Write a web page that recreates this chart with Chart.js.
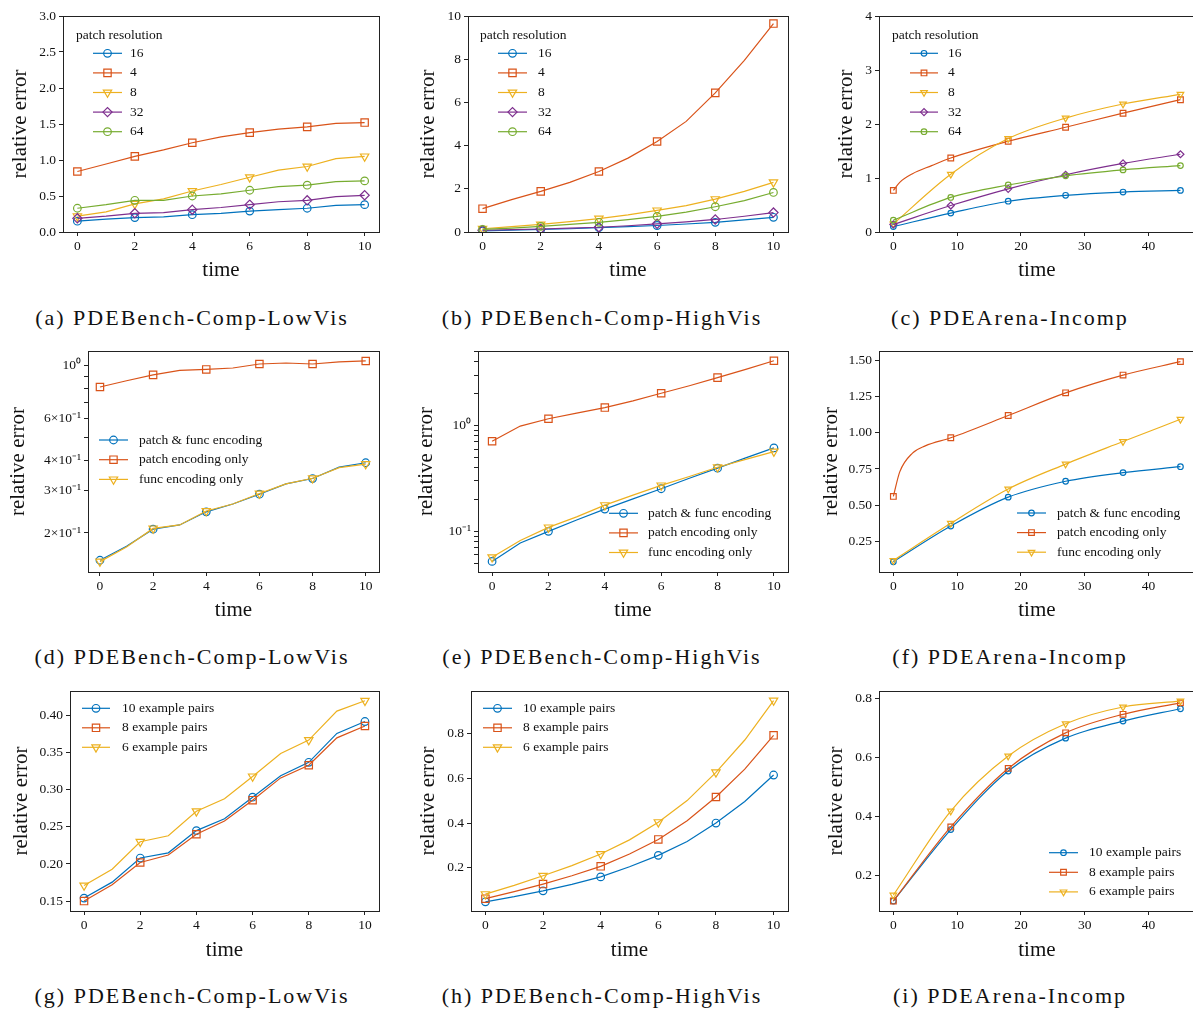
<!DOCTYPE html>
<html lang="en">
<head>
<meta charset="UTF-8">
<title>relative error over time</title>
<script src="https://cdn.jsdelivr.net/npm/chart.js"></script>
<style>
  html, body { margin: 0; padding: 0; background: #fff; overflow: hidden; }
  body { width: 1193px; height: 1009px; position: relative; }
  canvas { position: absolute; }
  .cap { position: absolute; width: 400px; height: 26px; line-height: 26px; text-align: center;
         font-family: 'Liberation Serif', serif; font-size: 22px; letter-spacing: 2px; color: #111; white-space: nowrap; }
</style>
</head>
<body>
<canvas id="pa" width="400" height="300" style="left:0px;top:0px"></canvas>
<canvas id="pb" width="400" height="300" style="left:400px;top:0px"></canvas>
<canvas id="pc" width="400" height="300" style="left:800px;top:0px"></canvas>
<canvas id="pd" width="400" height="300" style="left:0px;top:340px"></canvas>
<canvas id="pe" width="400" height="300" style="left:400px;top:340px"></canvas>
<canvas id="pf" width="400" height="300" style="left:800px;top:340px"></canvas>
<canvas id="pg" width="400" height="300" style="left:0px;top:680px"></canvas>
<canvas id="ph" width="400" height="300" style="left:400px;top:680px"></canvas>
<canvas id="pi" width="400" height="300" style="left:800px;top:680px"></canvas>

<div class="cap" style="left:-8px;top:305px">(a) PDEBench-Comp-LowVis</div>
<div class="cap" style="left:402px;top:305px">(b) PDEBench-Comp-HighVis</div>
<div class="cap" style="left:810px;top:305px">(c) PDEArena-Incomp</div>
<div class="cap" style="left:-8px;top:644px">(d) PDEBench-Comp-LowVis</div>
<div class="cap" style="left:402px;top:644px">(e) PDEBench-Comp-HighVis</div>
<div class="cap" style="left:810px;top:644px">(f) PDEArena-Incomp</div>
<div class="cap" style="left:-8px;top:983px">(g) PDEBench-Comp-LowVis</div>
<div class="cap" style="left:402px;top:983px">(h) PDEBench-Comp-HighVis</div>
<div class="cap" style="left:810px;top:983px">(i) PDEArena-Incomp</div>

<script>
// time steps
var tShort = [0, 1, 2, 3, 4, 5, 6, 7, 8, 9, 10];
var tLong = [0, 9, 18, 27, 36, 45];
var marksShort = [0, 2, 4, 6, 8, 10];
var marksLong = [0, 9, 18, 27, 36, 45];
var xTicksShort = [0, 2, 4, 6, 8, 10];
var xTicksLong = [0, 10, 20, 30, 40];

// (a) patch resolution, LowVis
var a16 = [0.15, 0.18, 0.20, 0.21, 0.24, 0.26, 0.29, 0.31, 0.33, 0.37, 0.38];
var a4  = [0.84, 0.945, 1.05, 1.14, 1.24, 1.32, 1.38, 1.43, 1.46, 1.51, 1.52];
var a8  = [0.22, 0.28, 0.39, 0.46, 0.57, 0.66, 0.76, 0.86, 0.91, 1.02, 1.05];
var a32 = [0.19, 0.22, 0.26, 0.27, 0.31, 0.34, 0.38, 0.42, 0.44, 0.49, 0.51];
var a64 = [0.33, 0.38, 0.44, 0.44, 0.50, 0.53, 0.58, 0.63, 0.65, 0.70, 0.71];

// (b) patch resolution, HighVis
var b16 = [0.05, 0.08, 0.12, 0.15, 0.20, 0.25, 0.30, 0.37, 0.45, 0.56, 0.68];
var b4  = [1.08, 1.5, 1.88, 2.3, 2.80, 3.42, 4.19, 5.12, 6.44, 7.95, 9.65];
var b8  = [0.15, 0.25, 0.35, 0.48, 0.62, 0.79, 1.0, 1.22, 1.52, 1.88, 2.30];
var b32 = [0.08, 0.11, 0.14, 0.18, 0.22, 0.29, 0.38, 0.47, 0.58, 0.73, 0.90];
var b64 = [0.12, 0.18, 0.26, 0.35, 0.45, 0.57, 0.72, 0.92, 1.17, 1.45, 1.83];

// (c) patch resolution, Incomp
var c16 = [0.10, 0.35, 0.57, 0.68, 0.74, 0.77];
var c4Times = [0, 1, 3, 6, 9, 18, 27, 36, 45];
var c4  = [0.77, 0.92, 1.08, 1.23, 1.37, 1.68, 1.94, 2.20, 2.45];
var c8  = [0.15, 1.07, 1.73, 2.11, 2.37, 2.55];
var c32 = [0.14, 0.49, 0.80, 1.06, 1.27, 1.44];
var c64 = [0.22, 0.64, 0.87, 1.04, 1.15, 1.23];

// (d)-(f) encoding ablation
var dBoth  = [0.154, 0.176, 0.2075, 0.216, 0.245, 0.264, 0.290, 0.32, 0.337, 0.376, 0.392];
var dPatch = [0.81, 0.86, 0.91, 0.95, 0.959, 0.972, 1.01, 1.02, 1.01, 1.03, 1.04];
var dFunc  = [0.152, 0.175, 0.209, 0.216, 0.247, 0.264, 0.292, 0.32, 0.338, 0.374, 0.387];

var eBoth  = [0.052, 0.0776, 0.1, 0.128, 0.1625, 0.203, 0.253, 0.318, 0.396, 0.495, 0.615];
var ePatch = [0.711, 0.99, 1.16, 1.31, 1.48, 1.71, 2.02, 2.38, 2.84, 3.4, 4.1];
var eFunc  = [0.057, 0.082, 0.109, 0.137, 0.177, 0.22, 0.272, 0.33, 0.404, 0.48, 0.568];

var fBoth  = [0.108, 0.355, 0.555, 0.665, 0.725, 0.766];
var fPatchTimes = [0, 1, 3, 5, 9, 18, 27, 36, 45];
var fPatch = [0.56, 0.73, 0.86, 0.91, 0.966, 1.12, 1.277, 1.40, 1.493];
var fFunc  = [0.117, 0.374, 0.612, 0.784, 0.94, 1.094];

// (g)-(i) number of example pairs
var gTen   = [0.154, 0.1755, 0.208, 0.215, 0.245, 0.261, 0.290, 0.319, 0.337, 0.376, 0.392];
var gEight = [0.150, 0.172, 0.202, 0.212, 0.240, 0.258, 0.286, 0.316, 0.333, 0.370, 0.386];
var gSix   = [0.171, 0.193, 0.230, 0.238, 0.271, 0.288, 0.318, 0.349, 0.367, 0.406, 0.420];

var hTen   = [0.049, 0.072, 0.098, 0.127, 0.160, 0.205, 0.256, 0.318, 0.400, 0.496, 0.614];
var hEight = [0.063, 0.094, 0.128, 0.165, 0.207, 0.262, 0.327, 0.41, 0.516, 0.64, 0.791];
var hSix   = [0.083, 0.122, 0.165, 0.21, 0.262, 0.325, 0.404, 0.50, 0.626, 0.77, 0.946];

var iTen   = [0.112, 0.355, 0.554, 0.666, 0.724, 0.766];
var iEight = [0.112, 0.364, 0.563, 0.684, 0.747, 0.786];
var iSix   = [0.132, 0.418, 0.605, 0.715, 0.772, 0.792];

// y tick values and labels
var yTicksA = [0, 0.5, 1, 1.5, 2, 2.5, 3];
var yLabelsA = ['0.0', '0.5', '1.0', '1.5', '2.0', '2.5', '3.0'];
var yTicksB = [0, 2, 4, 6, 8, 10];
var yLabelsB = ['0', '2', '4', '6', '8', '10'];
var yTicksC = [0, 1, 2, 3, 4];
var yLabelsC = ['0', '1', '2', '3', '4'];
var yTicksD = [0.2, 0.3, 0.4, 0.5, 0.6, 0.7, 0.8, 0.9, 1];
var yLabelsD = ['2×10⁻¹', '3×10⁻¹', '4×10⁻¹', '', '6×10⁻¹', '', '', '', '10⁰'];
var yTicksE = [0.05, 0.06, 0.07, 0.08, 0.09, 0.1, 0.2, 0.3, 0.4, 0.5, 0.6, 0.7, 0.8, 0.9, 1, 2, 3, 4, 5];
var yLabelsE = ['', '', '', '', '', '10⁻¹', '', '', '', '', '', '', '', '', '10⁰', '', '', '', ''];
var yTicksF = [0.25, 0.5, 0.75, 1, 1.25, 1.5];
var yLabelsF = ['0.25', '0.50', '0.75', '1.00', '1.25', '1.50'];
var yTicksG = [0.15, 0.2, 0.25, 0.3, 0.35, 0.4];
var yLabelsG = ['0.15', '0.20', '0.25', '0.30', '0.35', '0.40'];
var yTicksH = [0.2, 0.4, 0.6, 0.8];
var yLabelsH = ['0.2', '0.4', '0.6', '0.8'];

var BLUE = '#0072BD', ORANGE = '#D95319', YELLOW = '#EDB120', PURPLE = '#7E2F8E', GREEN = '#77AC30';
var SERIF = "'Liberation Serif', 'Times New Roman', serif";
var INK = '#111';

var SHAPES = {
    circle: ['circle', 0],
    square: ['rect', 0],
    tridown: ['triangle', 180],
    diamond: ['rectRot', 0]
};
var RADII = {
    big: { circle: 3.8, square: 5.2, tridown: 4.8, diamond: 4.6 },
    small: { circle: 2.8, square: 4.0, tridown: 3.8, diamond: 3.5 }
};

function series(label, times, vals, color, shape, marks, size, smooth) {
    var r = RADII[size][shape];
    return {
        label: label,
        data: times.map(function (t, i) { return { x: t, y: vals[i] }; }),
        borderColor: color,
        borderWidth: 1.2,
        pointStyle: SHAPES[shape][0],
        pointRotation: SHAPES[shape][1],
        pointRadius: function (ctx) { return (ctx.raw && marks.indexOf(ctx.raw.x) >= 0) ? r : 0; },
        pointHoverRadius: 0,
        pointBorderColor: color,
        pointBorderWidth: 1.2,
        pointBackgroundColor: 'rgba(0,0,0,0)',
        tension: 0,
        cubicInterpolationMode: smooth ? 'monotone' : 'default',
        fill: false,
        markerRadius: r
    };
}

// frame round the plot area
var framePlugin = {
    id: 'frame',
    afterDraw: function (chart) {
        var a = chart.chartArea, ctx = chart.ctx;
        ctx.save();
        ctx.strokeStyle = '#222';
        ctx.lineWidth = 1;
        ctx.strokeRect(Math.round(a.left) + 0.5, Math.round(a.top) + 0.5,
            Math.round(a.right - a.left), Math.round(a.bottom - a.top));
        ctx.restore();
    }
};

// matplotlib style legend inside the axes
var keyPlugin = {
    id: 'key',
    afterDatasetsDraw: function (chart, args, o) {
        if (o.x0 === undefined) return;
        var ctx = chart.ctx;
        ctx.save();
        ctx.font = '13.5px ' + SERIF;
        ctx.textBaseline = 'middle';
        ctx.textAlign = 'left';
        ctx.fillStyle = INK;
        if (o.title) ctx.fillText(o.title, o.titleX, o.titleY);
        chart.data.datasets.forEach(function (ds, i) {
            var y = o.y0 + i * o.gap;
            ctx.strokeStyle = ds.borderColor;
            ctx.lineWidth = ds.borderWidth;
            ctx.beginPath();
            ctx.moveTo(o.x0, y);
            ctx.lineTo(o.x1, y);
            ctx.stroke();
            ctx.fillStyle = 'rgba(0,0,0,0)';
            Chart.helpers.drawPoint(ctx, {
                pointStyle: ds.pointStyle, rotation: ds.pointRotation,
                radius: ds.markerRadius, borderWidth: ds.pointBorderWidth
            }, (o.x0 + o.x1) / 2, y);
            ctx.fillStyle = INK;
            ctx.fillText(ds.label, o.tx, y);
        });
        ctx.restore();
    }
};

function makeChart(p, datasets) {
    datasets.forEach(function (ds, i) { ds.order = -i; });
    var H = 300, W = 400;
    return new Chart(document.getElementById(p.id), {
        type: 'line',
        data: { datasets: datasets },
        options: {
            responsive: false,
            animation: false,
            events: [],
            devicePixelRatio: 1,
            layout: { padding: { left: 0, top: p.T, right: W - p.R, bottom: 0 } },
            plugins: { legend: { display: false }, tooltip: { enabled: false }, key: p.key || {} },
            scales: {
                x: {
                    type: 'linear', min: p.xmin, max: p.xmax,
                    afterBuildTicks: function (ax) { ax.ticks = p.xticks.map(function (v) { return { value: v }; }); },
                    afterFit: function (ax) { ax.height = H - p.B; },
                    grid: { display: true, drawOnChartArea: false, drawTicks: true, tickLength: 4, color: '#222', lineWidth: 1 },
                    border: { display: false },
                    ticks: { font: { family: SERIF, size: 13.5 }, color: INK, padding: 2, maxRotation: 0, autoSkip: false,
                             callback: function (v) { return String(v); } },
                    title: { display: true, text: 'time', color: INK, font: { family: SERIF, size: 21, lineHeight: 1 },
                             padding: { top: 0, bottom: 19.5 } }
                },
                y: {
                    type: p.log ? 'logarithmic' : 'linear', min: p.ymin, max: p.ymax,
                    afterBuildTicks: function (ax) { ax.ticks = p.yticks.map(function (v) { return { value: v }; }); },
                    afterFit: function (ax) { ax.width = p.L; },
                    grid: { display: true, drawOnChartArea: false, drawTicks: true, tickLength: 4, color: '#222', lineWidth: 1 },
                    border: { display: false },
                    ticks: { font: { family: SERIF, size: 13.5 }, color: INK, padding: 3, autoSkip: false,
                             callback: function (v, i) { return p.ylabels[i]; } },
                    title: { display: true, text: 'relative error', color: INK, font: { family: SERIF, size: 21, lineHeight: 1 },
                             padding: { top: p.ytPad, bottom: 0 } }
                }
            }
        },
        plugins: [framePlugin, keyPlugin]
    });
}

var resKey = function (titleX, x0, x1, tx) {
    return { title: 'patch resolution', titleX: titleX, titleY: 35, x0: x0, x1: x1, tx: tx, y0: 53.3, gap: 19.6 };
};

makeChart({ id: 'pa', L: 63, R: 379, T: 16, B: 232, xmin: -0.5, xmax: 10.5, xticks: xTicksShort,
            ymin: 0, ymax: 3, yticks: yTicksA, ylabels: yLabelsA, ytPad: 9.5, key: resKey(76, 93, 122, 130) }, [
    series('16', tShort, a16, BLUE, 'circle', marksShort, 'big'),
    series('4', tShort, a4, ORANGE, 'square', marksShort, 'big'),
    series('8', tShort, a8, YELLOW, 'tridown', marksShort, 'big'),
    series('32', tShort, a32, PURPLE, 'diamond', marksShort, 'big'),
    series('64', tShort, a64, GREEN, 'circle', marksShort, 'big')
]);

makeChart({ id: 'pb', L: 68, R: 388, T: 16, B: 232, xmin: -0.5, xmax: 10.5, xticks: xTicksShort,
            ymin: 0, ymax: 10, yticks: yTicksB, ylabels: yLabelsB, ytPad: 17.5, key: resKey(80, 98, 127, 138) }, [
    series('16', tShort, b16, BLUE, 'circle', marksShort, 'big'),
    series('4', tShort, b4, ORANGE, 'square', marksShort, 'big'),
    series('8', tShort, b8, YELLOW, 'tridown', marksShort, 'big'),
    series('32', tShort, b32, PURPLE, 'diamond', marksShort, 'big'),
    series('64', tShort, b64, GREEN, 'circle', marksShort, 'big')
]);

makeChart({ id: 'pc', L: 79, R: 395, T: 16, B: 232, xmin: -2.25, xmax: 47.25, xticks: xTicksLong,
            ymin: 0, ymax: 4, yticks: yTicksC, ylabels: yLabelsC, ytPad: 36, key: resKey(92, 110, 138, 148) }, [
    series('16', tLong, c16, BLUE, 'circle', marksLong, 'small', true),
    series('4', c4Times, c4, ORANGE, 'square', marksLong, 'small', true),
    series('8', tLong, c8, YELLOW, 'tridown', marksLong, 'small', true),
    series('32', tLong, c32, PURPLE, 'diamond', marksLong, 'small', true),
    series('64', tLong, c64, GREEN, 'circle', marksLong, 'small', true)
]);

makeChart({ id: 'pd', L: 88, R: 379, T: 11, B: 232, xmin: -0.45, xmax: 10.5, xticks: xTicksShort, log: true,
            ymin: 0.1376, ymax: 1.143, yticks: yTicksD, ylabels: yLabelsD, ytPad: 7.5,
            key: { x0: 99, x1: 128, tx: 139, y0: 100, gap: 19.7 } }, [
    series('patch & func encoding', tShort, dBoth, BLUE, 'circle', marksShort, 'big'),
    series('patch encoding only', tShort, dPatch, ORANGE, 'square', marksShort, 'big'),
    series('func encoding only', tShort, dFunc, YELLOW, 'tridown', marksShort, 'big')
]);

makeChart({ id: 'pe', L: 78, R: 388, T: 11, B: 232, xmin: -0.5, xmax: 10.5, xticks: xTicksShort, log: true,
            ymin: 0.0413, ymax: 5.06, yticks: yTicksE, ylabels: yLabelsE, ytPad: 16,
            key: { x0: 209, x1: 238, tx: 248, y0: 173.3, gap: 19.6 } }, [
    series('patch & func encoding', tShort, eBoth, BLUE, 'circle', marksShort, 'big'),
    series('patch encoding only', tShort, ePatch, ORANGE, 'square', marksShort, 'big'),
    series('func encoding only', tShort, eFunc, YELLOW, 'tridown', marksShort, 'big')
]);

makeChart({ id: 'pf', L: 79, R: 395, T: 10, B: 232, xmin: -2.25, xmax: 47.25, xticks: xTicksLong,
            ymin: 0.037, ymax: 1.566, yticks: yTicksF, ylabels: yLabelsF, ytPad: 21,
            key: { x0: 217, x1: 246, tx: 257, y0: 173, gap: 19.6 } }, [
    series('patch & func encoding', tLong, fBoth, BLUE, 'circle', marksLong, 'small', true),
    series('patch encoding only', fPatchTimes, fPatch, ORANGE, 'square', marksLong, 'small', true),
    series('func encoding only', tLong, fFunc, YELLOW, 'tridown', marksLong, 'small', true)
]);

makeChart({ id: 'pg', L: 70, R: 379, T: 10, B: 231, xmin: -0.5, xmax: 10.5, xticks: xTicksShort,
            ymin: 0.1366, ymax: 0.433, yticks: yTicksG, ylabels: yLabelsG, ytPad: 11,
            key: { x0: 82, x1: 110, tx: 122, y0: 28.3, gap: 19.5 } }, [
    series('10 example pairs', tShort, gTen, BLUE, 'circle', marksShort, 'big'),
    series('8 example pairs', tShort, gEight, ORANGE, 'square', marksShort, 'big'),
    series('6 example pairs', tShort, gSix, YELLOW, 'tridown', marksShort, 'big')
]);

makeChart({ id: 'ph', L: 71, R: 388, T: 10, B: 231, xmin: -0.5, xmax: 10.5, xticks: xTicksShort,
            ymin: 0.008, ymax: 0.988, yticks: yTicksH, ylabels: yLabelsH, ytPad: 17.5,
            key: { x0: 83, x1: 112, tx: 123, y0: 28.3, gap: 19.5 } }, [
    series('10 example pairs', tShort, hTen, BLUE, 'circle', marksShort, 'big'),
    series('8 example pairs', tShort, hEight, ORANGE, 'square', marksShort, 'big'),
    series('6 example pairs', tShort, hSix, YELLOW, 'tridown', marksShort, 'big')
]);

makeChart({ id: 'pi', L: 79, R: 395, T: 10, B: 231, xmin: -2.25, xmax: 47.25, xticks: xTicksLong,
            ymin: 0.078, ymax: 0.826, yticks: yTicksH, ylabels: yLabelsH, ytPad: 26,
            key: { x0: 249, x1: 278, tx: 289, y0: 172.7, gap: 19.6 } }, [
    series('10 example pairs', tLong, iTen, BLUE, 'circle', marksLong, 'small', true),
    series('8 example pairs', tLong, iEight, ORANGE, 'square', marksLong, 'small', true),
    series('6 example pairs', tLong, iSix, YELLOW, 'tridown', marksLong, 'small', true)
]);
</script>
</body>
</html>
